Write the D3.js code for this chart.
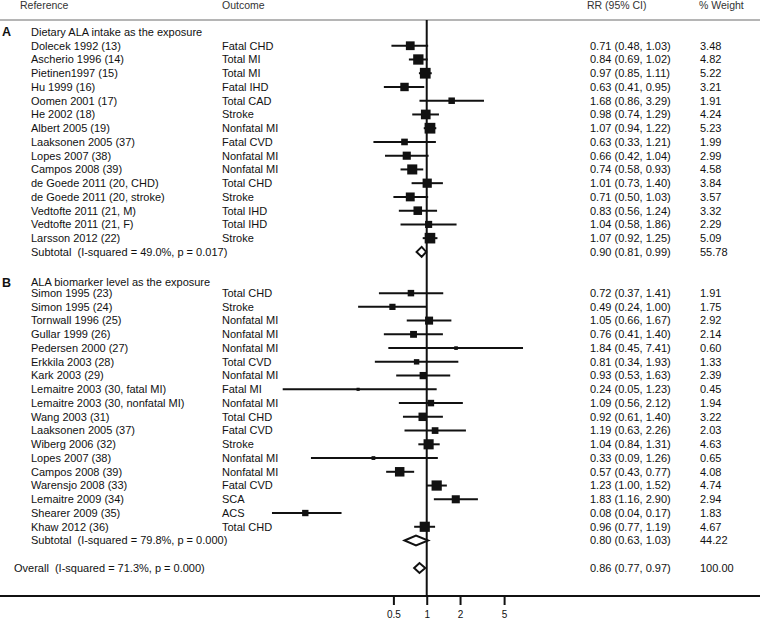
<!DOCTYPE html>
<html>
<head>
<meta charset="utf-8">
<script src="https://cdn.jsdelivr.net/npm/d3@7"></script>
<style>
  html, body { margin: 0; padding: 0; background: #fff; }
  svg text { font-family: "Liberation Sans", Arial, Helvetica, sans-serif; white-space: pre; }
</style>
</head>
<body>
<svg id="chart" width="760" height="620"></svg>
<script>
// ---- Data ----
const studiesA = ["Dolecek 1992 (13)", "Ascherio 1996 (14)", "Pietinen1997 (15)", "Hu 1999 (16)", "Oomen 2001 (17)", "He 2002 (18)", "Albert 2005 (19)", "Laaksonen 2005 (37)", "Lopes 2007 (38)", "Campos 2008 (39)", "de Goede 2011 (20, CHD)", "de Goede 2011 (20, stroke)", "Vedtofte 2011 (21, M)", "Vedtofte 2011 (21, F)", "Larsson 2012 (22)"];
const outcomesA = ["Fatal CHD", "Total MI", "Total MI", "Fatal IHD", "Total CAD", "Stroke", "Nonfatal MI", "Fatal CVD", "Nonfatal MI", "Nonfatal MI", "Total CHD", "Stroke", "Total IHD", "Total IHD", "Stroke"];
const rrA = [0.71, 0.84, 0.97, 0.63, 1.68, 0.98, 1.07, 0.63, 0.66, 0.74, 1.01, 0.71, 0.83, 1.04, 1.07];
const loA = [0.48, 0.69, 0.85, 0.41, 0.86, 0.74, 0.94, 0.33, 0.42, 0.58, 0.73, 0.50, 0.56, 0.58, 0.92];
const hiA = [1.03, 1.02, 1.11, 0.95, 3.29, 1.29, 1.22, 1.21, 1.04, 0.93, 1.40, 1.03, 1.24, 1.86, 1.25];
const weightA = [3.48, 4.82, 5.22, 3.21, 1.91, 4.24, 5.23, 1.99, 2.99, 4.58, 3.84, 3.57, 3.32, 2.29, 5.09];

const studiesB = ["Simon 1995 (23)", "Simon 1995 (24)", "Tornwall 1996 (25)", "Gullar 1999 (26)", "Pedersen 2000 (27)", "Erkkila 2003 (28)", "Kark 2003 (29)", "Lemaitre 2003 (30, fatal MI)", "Lemaitre 2003 (30, nonfatal MI)", "Wang 2003 (31)", "Laaksonen 2005 (37)", "Wiberg 2006 (32)", "Lopes 2007 (38)", "Campos 2008 (39)", "Warensjo 2008 (33)", "Lemaitre 2009 (34)", "Shearer 2009 (35)", "Khaw 2012 (36)"];
const outcomesB = ["Total CHD", "Stroke", "Nonfatal MI", "Nonfatal MI", "Nonfatal MI", "Total CVD", "Nonfatal MI", "Fatal MI", "Nonfatal MI", "Total CHD", "Fatal CVD", "Stroke", "Nonfatal MI", "Nonfatal MI", "Fatal CVD", "SCA", "ACS", "Total CHD"];
const rrB = [0.72, 0.49, 1.05, 0.76, 1.84, 0.81, 0.93, 0.24, 1.09, 0.92, 1.19, 1.04, 0.33, 0.57, 1.23, 1.83, 0.08, 0.96];
const loB = [0.37, 0.24, 0.66, 0.41, 0.45, 0.34, 0.53, 0.05, 0.56, 0.61, 0.63, 0.84, 0.09, 0.43, 1.00, 1.16, 0.04, 0.77];
const hiB = [1.41, 1.00, 1.67, 1.40, 7.41, 1.93, 1.63, 1.23, 2.12, 1.40, 2.26, 1.31, 1.26, 0.77, 1.52, 2.90, 0.17, 1.19];
const weightB = [1.91, 1.75, 2.92, 2.14, 0.60, 1.33, 2.39, 0.45, 1.94, 3.22, 2.03, 4.63, 0.65, 4.08, 4.74, 2.94, 1.83, 4.67];

const groupLetters = ["A", "B"];
const groupTitles = ["Dietary ALA intake as the exposure", "ALA biomarker level as the exposure"];
const pooledLabels = ["Subtotal  (I-squared = 49.0%, p = 0.017)", "Subtotal  (I-squared = 79.8%, p = 0.000)", "Overall  (I-squared = 71.3%, p = 0.000)"];
const pooledRR = [0.90, 0.80, 0.86];
const pooledLo = [0.81, 0.63, 0.77];
const pooledHi = [0.99, 1.03, 0.97];
const pooledWeight = ["55.78", "44.22", "100.00"];

const headers = ["Reference", "Outcome", "RR (95% CI)", "% Weight"];
const tickValues = [0.5, 1, 2, 5];
const tickLabels = ["0.5", "1", "2", "5"];

// ---- Layout ----
const W = 760, H = 620;
const svg = d3.select("#chart");
const ink = "#111";
const fs = 11;

const x = d3.scaleLog().domain([0.5, 5]).range([393.4, 504.1]);
const rowY = d3.scaleLinear().domain([0, 39]).range([32, 568]);
const colRef = 31, colOut = 222, colRR = 590, colW = 700;
const sqK = 4.7;

const f2 = d3.format(".2f");
const ciText = (r, l, h) => `${f2(r)} (${f2(l)}, ${f2(h)})`;

// Build rows
const rows = [];
const groups = [
  {studies: studiesA, outcomes: outcomesA, rr: rrA, lo: loA, hi: hiA, w: weightA, start: 0, hdr: 0},
  {studies: studiesB, outcomes: outcomesB, rr: rrB, lo: loB, hi: hiB, w: weightB, start: 18, hdr: 18.2}
];
groups.forEach((g, gi) => {
  rows.push({type: "header", idx: g.hdr, letter: groupLetters[gi], title: groupTitles[gi]});
  g.studies.forEach((s, i) => {
    rows.push({type: "study", idx: g.start + 1 + i, name: s, outcome: g.outcomes[i],
      rr: g.rr[i], lo: g.lo[i], hi: g.hi[i], w: g.w[i]});
  });
  rows.push({type: "pooled", idx: g.start + 1 + g.studies.length, name: pooledLabels[gi],
    rr: pooledRR[gi], lo: pooledLo[gi], hi: pooledHi[gi], wt: pooledWeight[gi], indent: true});
});
rows.push({type: "pooled", idx: 39, name: pooledLabels[2], rr: pooledRR[2], lo: pooledLo[2], hi: pooledHi[2], wt: pooledWeight[2], indent: false});

// Header
const hdrY = 9;
const hfs = 10.5;
svg.append("text").attr("x", 20).attr("y", hdrY).attr("font-size", hfs).attr("fill", "#333").text(headers[0]);
svg.append("text").attr("x", colOut).attr("y", hdrY).attr("font-size", hfs).attr("fill", "#333").text(headers[1]);
svg.append("text").attr("x", 587).attr("y", hdrY).attr("font-size", hfs).attr("fill", "#333").text(headers[2]);
svg.append("text").attr("x", 699).attr("y", hdrY).attr("font-size", hfs).attr("fill", "#333").text(headers[3]);
svg.append("line").attr("x1", 0).attr("x2", W).attr("y1", 20).attr("y2", 20)
  .attr("stroke", "#b5b5b5").attr("stroke-width", 2);

// Null line at RR = 1
const axisY = 596;
svg.append("line").attr("x1", x(1)).attr("x2", x(1)).attr("y1", 20).attr("y2", axisY)
  .attr("stroke", ink).attr("stroke-width", 2);

// Rows
rows.forEach(r => {
  const y = rowY(r.idx);
  if (r.type === "header") {
    svg.append("text").attr("x", 2).attr("y", y).attr("dy", "0.35em")
      .attr("font-size", 12.5).attr("font-weight", "bold").attr("fill", ink).text(r.letter);
    svg.append("text").attr("x", colRef).attr("y", y).attr("dy", "0.35em")
      .attr("font-size", fs).attr("fill", ink).text(r.title);
    return;
  }
  svg.append("text").attr("x", r.type === "pooled" && !r.indent ? 14 : colRef).attr("y", y).attr("dy", "0.35em")
    .attr("font-size", fs).attr("fill", ink).text(r.name);
  if (r.type === "study") {
    svg.append("text").attr("x", colOut).attr("y", y).attr("dy", "0.35em")
      .attr("font-size", fs).attr("fill", ink).text(r.outcome);
    svg.append("line").attr("x1", x(r.lo)).attr("x2", x(r.hi)).attr("y1", y).attr("y2", y)
      .attr("stroke", ink).attr("stroke-width", 2);
    const s = sqK * Math.sqrt(r.w);
    svg.append("rect").attr("x", x(r.rr) - s / 2).attr("y", y - s / 2)
      .attr("width", s).attr("height", s).attr("fill", ink);
    svg.append("text").attr("x", colRR).attr("y", y).attr("dy", "0.35em")
      .attr("font-size", fs).attr("fill", ink).text(ciText(r.rr, r.lo, r.hi));
    svg.append("text").attr("x", colW).attr("y", y).attr("dy", "0.35em")
      .attr("font-size", fs).attr("fill", ink).text(f2(r.w));
  } else {
    const hh = 5;
    const pts = [[x(r.lo), y], [x(r.rr), y - hh], [x(r.hi), y], [x(r.rr), y + hh]];
    svg.append("polygon").attr("points", pts.map(p => p.join(",")).join(" "))
      .attr("fill", "#fff").attr("stroke", ink).attr("stroke-width", 2).attr("stroke-linejoin", "miter");
    svg.append("text").attr("x", colRR).attr("y", y).attr("dy", "0.35em")
      .attr("font-size", fs).attr("fill", ink).text(ciText(r.rr, r.lo, r.hi));
    svg.append("text").attr("x", colW).attr("y", y).attr("dy", "0.35em")
      .attr("font-size", fs).attr("fill", ink).text(r.wt);
  }
});

// X axis
svg.append("line").attr("x1", 0).attr("x2", W).attr("y1", axisY).attr("y2", axisY)
  .attr("stroke", ink).attr("stroke-width", 2);
const axis = d3.axisBottom(x).tickValues(tickValues).tickFormat((d, i) => tickLabels[i]).tickSize(9).tickPadding(6);
const ag = svg.append("g").attr("transform", `translate(0,${axisY})`).call(axis);
ag.select(".domain").remove();
ag.selectAll(".tick line").attr("stroke", ink).attr("stroke-width", 2);
ag.selectAll(".tick text").attr("font-size", 10).attr("fill", ink)
  .attr("font-family", "Liberation Sans, Arial, sans-serif");
</script>
</body>
</html>
